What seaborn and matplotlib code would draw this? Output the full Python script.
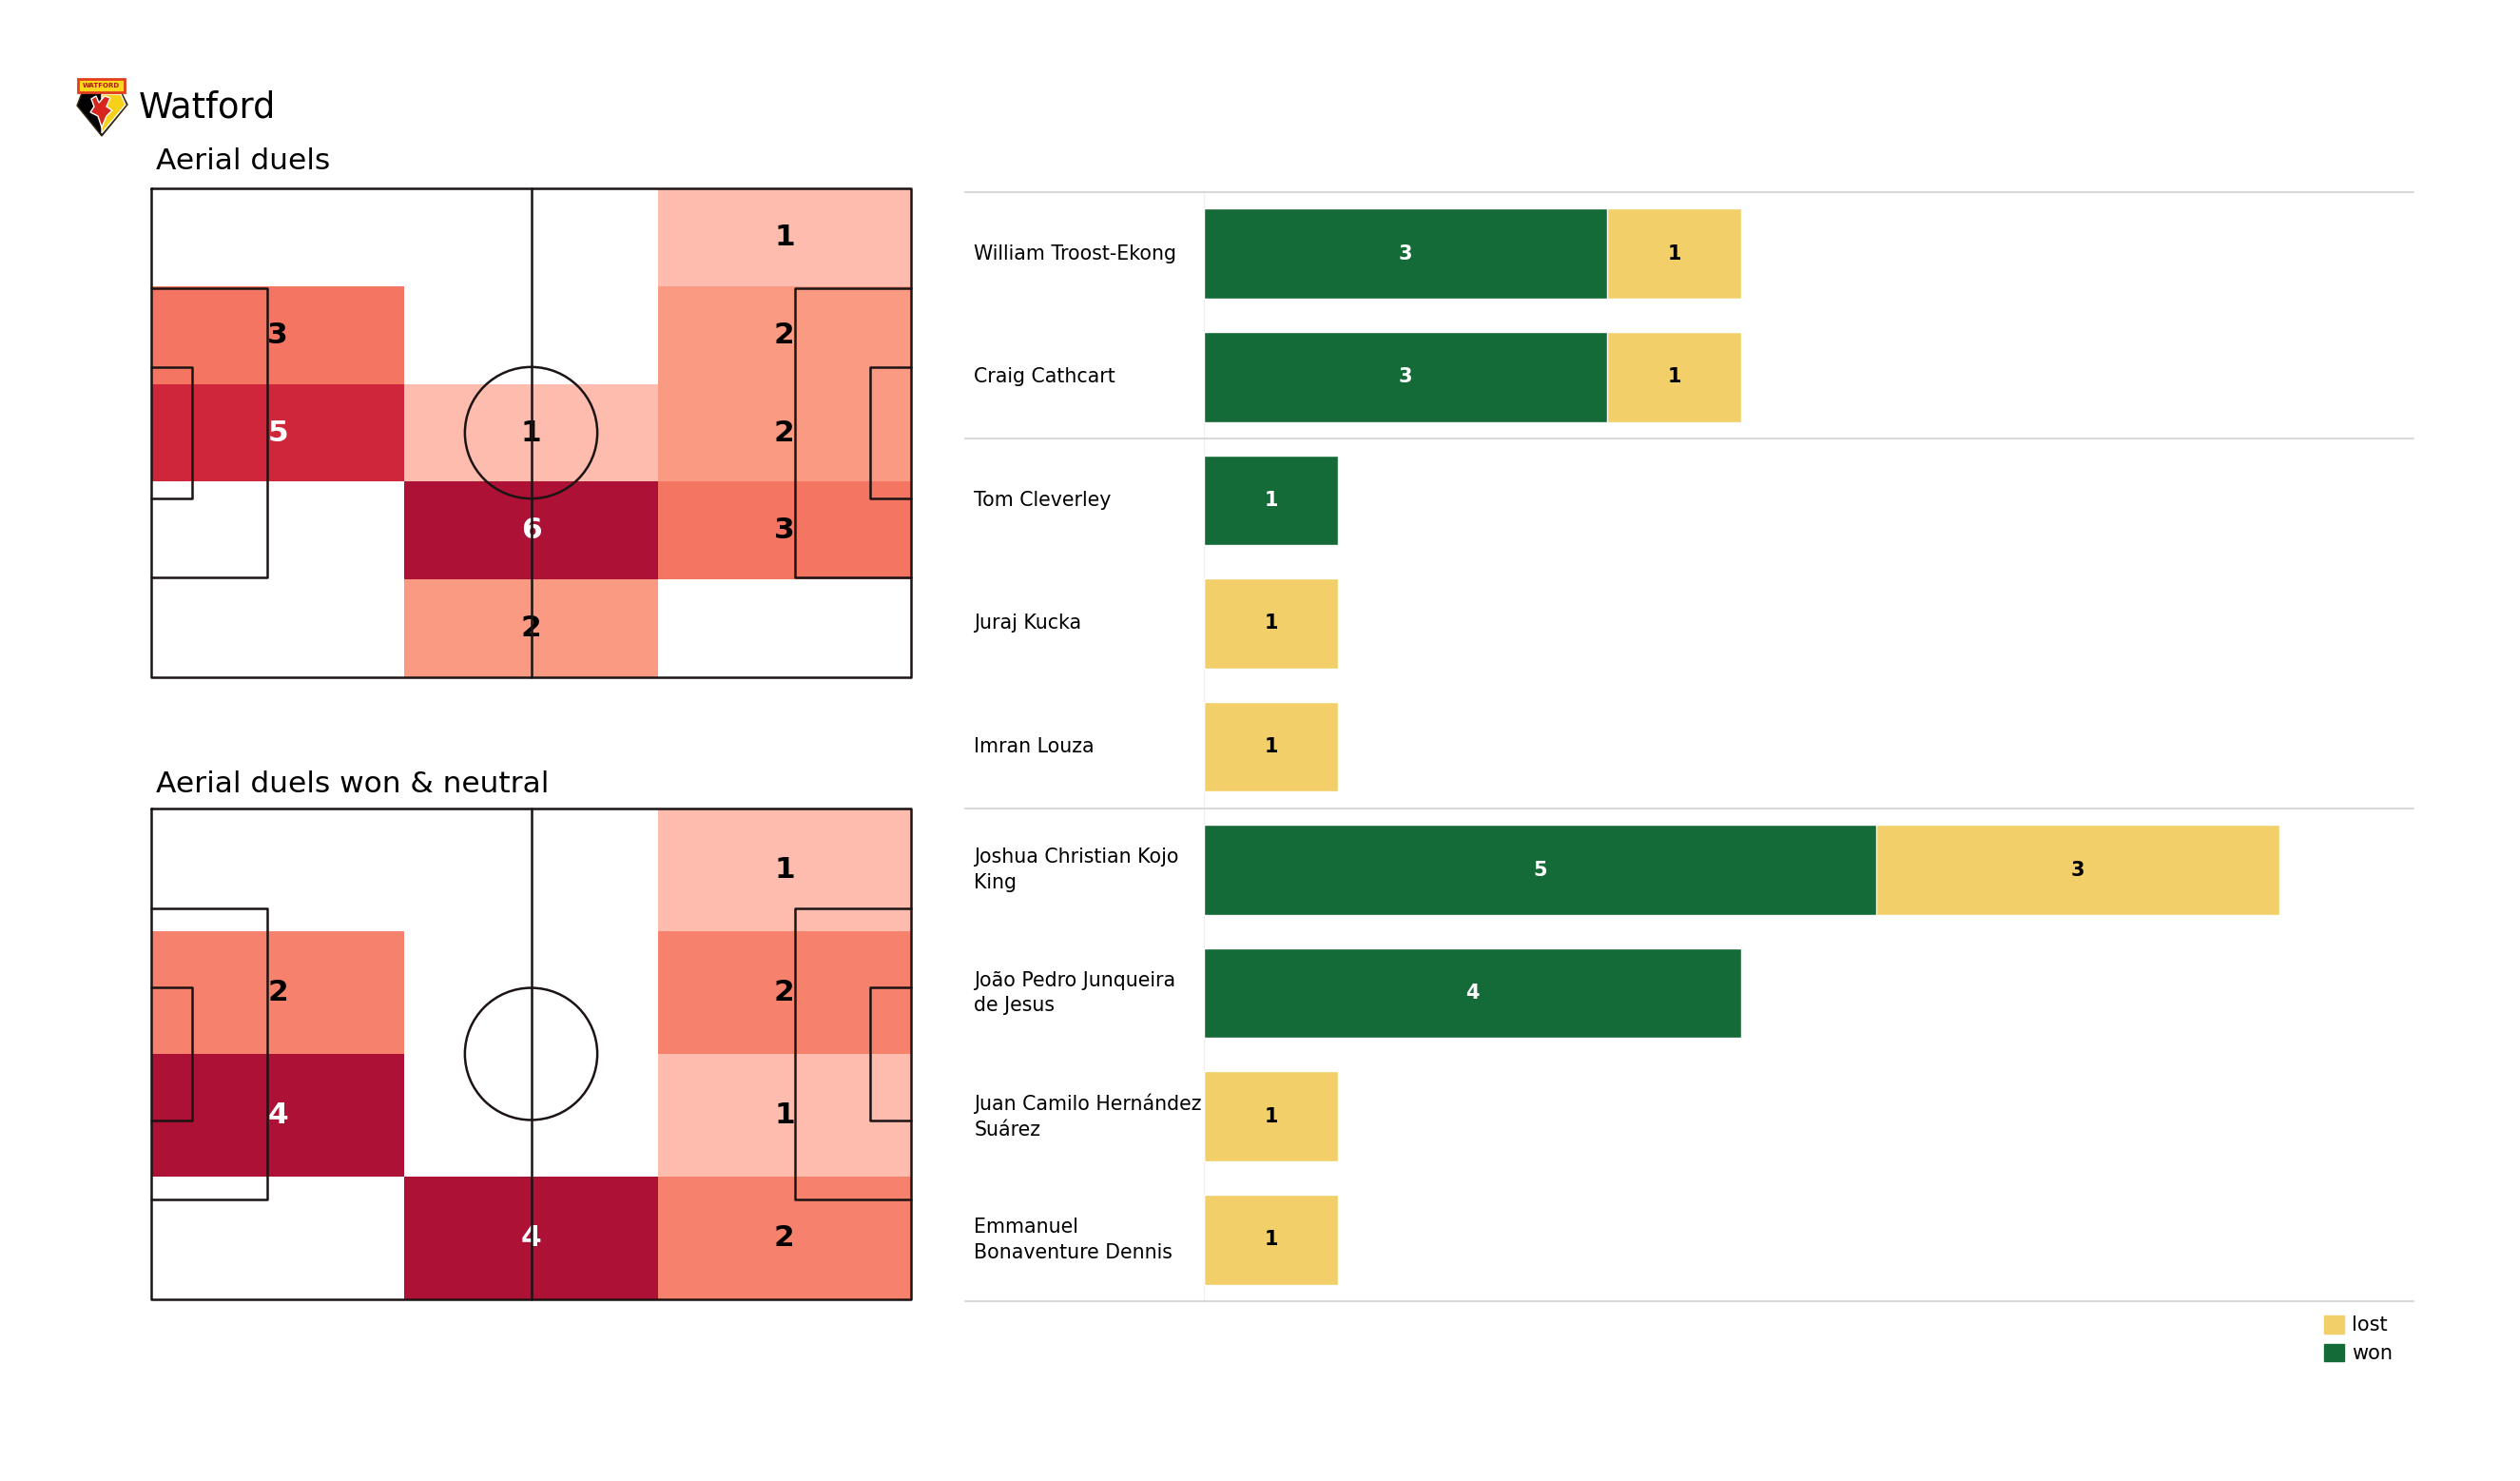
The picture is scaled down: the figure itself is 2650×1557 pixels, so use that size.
import numpy as np
import pandas as pd
import seaborn as sns
import matplotlib.pyplot as plt
from matplotlib.colors import LinearSegmentedColormap
from matplotlib.patches import Rectangle, Ellipse, Polygon, Patch

# aerial duel counts per zone, rows top->bottom, columns left->right
duels_all = [[0, 0, 1],
             [3, 0, 2],
             [5, 1, 2],
             [0, 6, 3],
             [0, 2, 0]]
duels_won = [[0, 0, 1],
             [2, 0, 2],
             [4, 0, 1],
             [0, 4, 2]]

# per player
players = ['William Troost-Ekong', 'Craig Cathcart', 'Tom Cleverley', 'Juraj Kucka',
           'Imran Louza', 'Joshua Christian Kojo\nKing', 'João Pedro Junqueira\nde Jesus',
           'Juan Camilo Hernández\nSuárez', 'Emmanuel\nBonaventure Dennis']
won = [3, 3, 1, 0, 0, 5, 4, 0, 0]
lost = [1, 1, 0, 1, 1, 3, 0, 1, 1]
group_lines = [-0.5, 1.5, 4.5, 8.5]

GREEN = '#146b37'
YELLOW = '#f2cf69'
heat_cmap = LinearSegmentedColormap.from_list(
    'heat', [(0, '#fdbcad'), (0.2, '#fb9a82'), (0.4, '#f47561'), (0.8, '#d0263c'), (1, '#ad1136')])

sns.set_style('white')
plt.rcParams['font.family'] = ['DejaVu Sans']
plt.rcParams['text.color'] = 'black'
plt.rcParams['ytick.color'] = 'black'

fig = plt.figure(figsize=(26.5, 15.57), dpi=100)


def draw_pitch(ax, nrows, ncols):
    sx = ncols / 105
    sy = nrows / 68
    kw = dict(color='#1c1414', lw=1.8, clip_on=False, zorder=5)
    ax.plot([0, 105 * sx, 105 * sx, 0, 0], [0, 0, 68 * sy, 68 * sy, 0], **kw)
    ax.plot([52.5 * sx] * 2, [0, 68 * sy], **kw)
    ax.add_patch(Ellipse((52.5 * sx, 34 * sy), 18.3 * sx, 18.3 * sy, fill=False,
                         ec=kw['color'], lw=kw['lw'], zorder=5))
    for x0, d in [(0, 1), (105, -1)]:
        for depth, half in [(16.0, 20.15), (5.6, 9.16)]:
            xe = x0 + d * depth
            ax.plot([x0 * sx, xe * sx, xe * sx, x0 * sx],
                    [(34 - half) * sy, (34 - half) * sy, (34 + half) * sy, (34 + half) * sy], **kw)


def pitch_heatmap(ax, grid):
    arr = np.array(grid)
    labels = np.where(arr > 0, arr.astype(str), '')
    sns.heatmap(arr, mask=arr == 0, cmap=heat_cmap, vmin=1, vmax=arr.max(),
                annot=labels, fmt='', cbar=False, xticklabels=False, yticklabels=False,
                annot_kws=dict(fontsize=22.5, fontweight='bold'), ax=ax)
    for t in ax.texts:
        v = int(t.get_text())
        t.set_color('white' if v > 0.7 * arr.max() else 'black')
    draw_pitch(ax, *arr.shape)
    ax.set_xlim(0, arr.shape[1])
    ax.set_ylim(arr.shape[0], 0)
    ax.axis('off')


ax1 = fig.add_axes([159 / 2650, 1 - 712 / 1557, 799 / 2650, 514 / 1557])
pitch_heatmap(ax1, duels_all)
ax2 = fig.add_axes([159 / 2650, 1 - 1366 / 1557, 799 / 2650, 516 / 1557])
pitch_heatmap(ax2, duels_won)

fig.text(164 / 2650, 1 - 178 / 1557, 'Aerial duels', fontsize=22.5, va='baseline')
fig.text(164 / 2650, 1 - 833 / 1557, 'Aerial duels won & neutral', fontsize=22.5, va='baseline')
fig.text(146 / 2650, 1 - 123 / 1557, 'Watford', fontsize=26.5, va='baseline')

# badge
logo = fig.add_axes([78 / 2650, 1 - 146 / 1557, 58 / 2650, 66 / 1557])
logo.set_xlim(78, 136)
logo.set_ylim(146, 80)
logo.axis('off')
logo.add_patch(Polygon([(81, 111), (86, 98), (128, 98), (134, 110), (107, 143)],
                       fc='black', ec='#3a2a10', lw=1))
logo.add_patch(Polygon([(107, 99), (127, 99), (132, 110), (107, 140)], fc='#f7d117'))
logo.add_patch(Polygon([(96, 104), (101, 101), (104, 108), (110, 101), (116, 103), (112, 112),
                        (118, 116), (112, 122), (107, 134), (103, 122), (95, 118), (99, 112)],
                       fc='#d7261e'))
logo.add_patch(Rectangle((82, 83), 49, 14, fc='#f9d71c', ec='#e2401c', lw=2))
logo.text(106.5, 90.5, 'WATFORD', fontsize=5, fontweight='bold', color='#b01a12',
          ha='center', va='center')

# bars
df = pd.DataFrame({'player': players, 'won': won, 'lost': lost})
df['total'] = df['won'] + df['lost']

ax = fig.add_axes([1266 / 2650, 1 - 1368 / 1557, 1272 / 2650, 1166 / 1557])
sns.barplot(data=df, y='player', x='total', color=YELLOW, saturation=1, width=0.73,
            orient='h', errorbar=None, ax=ax)
sns.barplot(data=df, y='player', x='won', color=GREEN, saturation=1, width=0.73,
            orient='h', errorbar=None, ax=ax)
ax.bar_label(ax.containers[1], labels=[str(w) if w else '' for w in won], label_type='center',
             color='white', fontsize=15, fontweight='bold')
for i, (w, l) in enumerate(zip(won, lost)):
    if l:
        ax.text(w + l / 2, i, str(l), ha='center', va='center', color='black',
                fontsize=15, fontweight='bold')

ax.set_xlim(0, 9)
ax.set_ylim(8.5, -0.5)
ax.set_xticks([])
ax.set_xlabel('')
ax.set_ylabel('')
ax.set_yticks(range(len(players)), players, ha='left', va='center', fontsize=14.8, linespacing=1.42)
ax.tick_params(axis='y', length=0, pad=174)
sns.despine(ax=ax, left=True, bottom=True)
ax.axvline(0, color='#eeeeee', lw=1, zorder=0)
for y in group_lines:
    ax.axhline(y, xmin=-0.197, xmax=1, color='#d9d9d9', lw=1.5, clip_on=False)

fig.legend(handles=[Patch(color=YELLOW, label='lost'), Patch(color=GREEN, label='won')],
           loc='upper left', bbox_to_anchor=(2444 / 2650, 1 - 1383 / 1557), frameon=False,
           fontsize=15, handlelength=1.0, handleheight=1.0, handletextpad=0.4,
           labelspacing=0.45, borderpad=0, borderaxespad=0)

fig.savefig('out.png', dpi=100)
